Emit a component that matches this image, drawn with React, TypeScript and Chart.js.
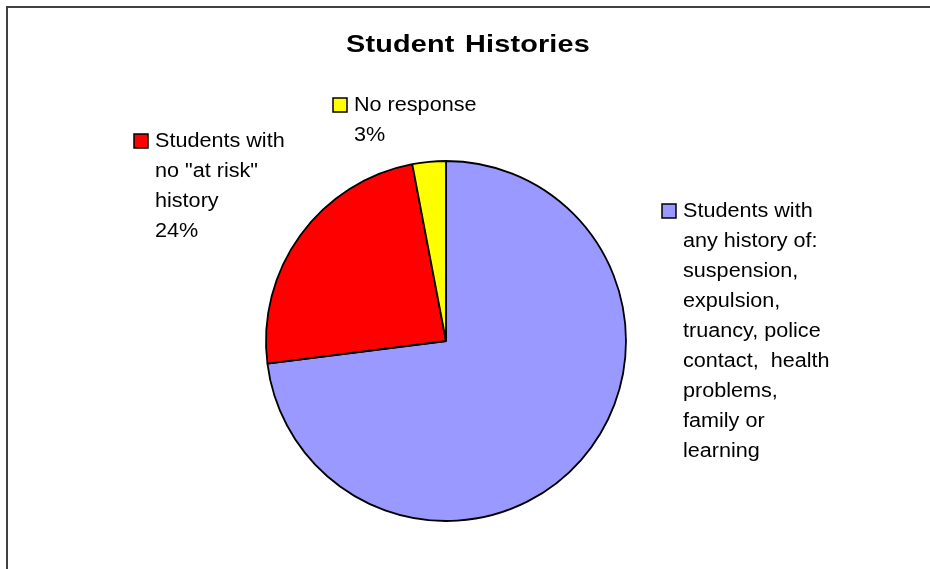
import React, { useEffect, useRef } from "react";
import { Chart, registerables } from "chart.js";

Chart.register(...registerables);

const title = "Student Histories";
const categories = [
  "Students with any history of: suspension, expulsion, truancy, police contact, health problems, family or learning",
  "Students with no \"at risk\" history",
  "No response",
];
const values = [73, 24, 3];
const colors = ["#9999FF", "#FF0000", "#FFFF00"];
const labelLines = [
  ["Students with", "any history of:", "suspension,", "expulsion,", "truancy, police", "contact,  health", "problems,", "family or", "learning"],
  ["Students with", "no \"at risk\"", "history", "24%"],
  ["No response", "3%"],
];

// label block placement relative to pie centre (square top-left)
const labelOffsets = [
  { dx: 216, dy: -137 },
  { dx: -312, dy: -207 },
  { dx: -113, dy: -243 },
];

const FONT = "'Liberation Sans', Arial, sans-serif";

function wideText(ctx: CanvasRenderingContext2D, text: string, x: number, y: number, sx: number) {
  ctx.save();
  ctx.translate(x, y);
  ctx.scale(sx, 1);
  ctx.fillText(text, 0, 0);
  ctx.restore();
}

const decorPlugin = {
  id: "decor",
  afterDraw(chart: any) {
    const ctx = chart.ctx as CanvasRenderingContext2D;
    ctx.save();
    // frame
    ctx.fillStyle = "#404040";
    ctx.fillRect(6, 6, 924, 2);
    ctx.fillRect(6, 6, 2, 563);

    // title
    ctx.fillStyle = "#000";
    ctx.font = `bold 24px ${FONT}`;
    (ctx as any).letterSpacing = "0.15px";
    (ctx as any).wordSpacing = "2px";
    ctx.textAlign = "left";
    ctx.textBaseline = "alphabetic";
    wideText(ctx, title, 346, 52, 1.2);
    (ctx as any).wordSpacing = "0px";
    (ctx as any).letterSpacing = "0px";

    const meta = chart.getDatasetMeta(0);
    const arc = meta.data[0];
    const cx = arc.x;
    const cy = arc.y;

    ctx.font = `20px ${FONT}`;
    labelLines.forEach((lines, i) => {
      const sx = cx + labelOffsets[i].dx;
      const sy = cy + labelOffsets[i].dy;
      ctx.fillStyle = colors[i];
      ctx.fillRect(sx, sy, 14, 14);
      ctx.strokeStyle = "#000";
      ctx.lineWidth = 1.5;
      ctx.strokeRect(sx, sy, 14, 14);
      ctx.fillStyle = "#000";
      lines.forEach((ln, j) => {
        wideText(ctx, ln, sx + 21, sy + 13 + j * 30, 1.08);
      });
    });
    ctx.restore();
  },
};

export default function App() {
  const ref = useRef<HTMLCanvasElement>(null);
  useEffect(() => {
    document.body.style.margin = "0";
    const chart = new Chart(ref.current!, {
      type: "pie",
      data: {
        labels: categories,
        datasets: [
          {
            data: values,
            backgroundColor: colors,
            borderColor: "#000",
            borderWidth: 1.8,
          },
        ],
      },
      options: {
        responsive: false,
        animation: false,
        events: [],
        radius: 180,
        layout: { padding: { left: 260, right: 298, top: 160, bottom: 47 } },
        plugins: {
          legend: { display: false },
          tooltip: { enabled: false },
          title: { display: false },
        },
      } as any,
      plugins: [decorPlugin],
    });
    return () => chart.destroy();
  }, []);
  return (
    <div style={{ width: 930, height: 569, background: "#fff" }}>
      <canvas ref={ref} width={930} height={569} />
    </div>
  );
}
